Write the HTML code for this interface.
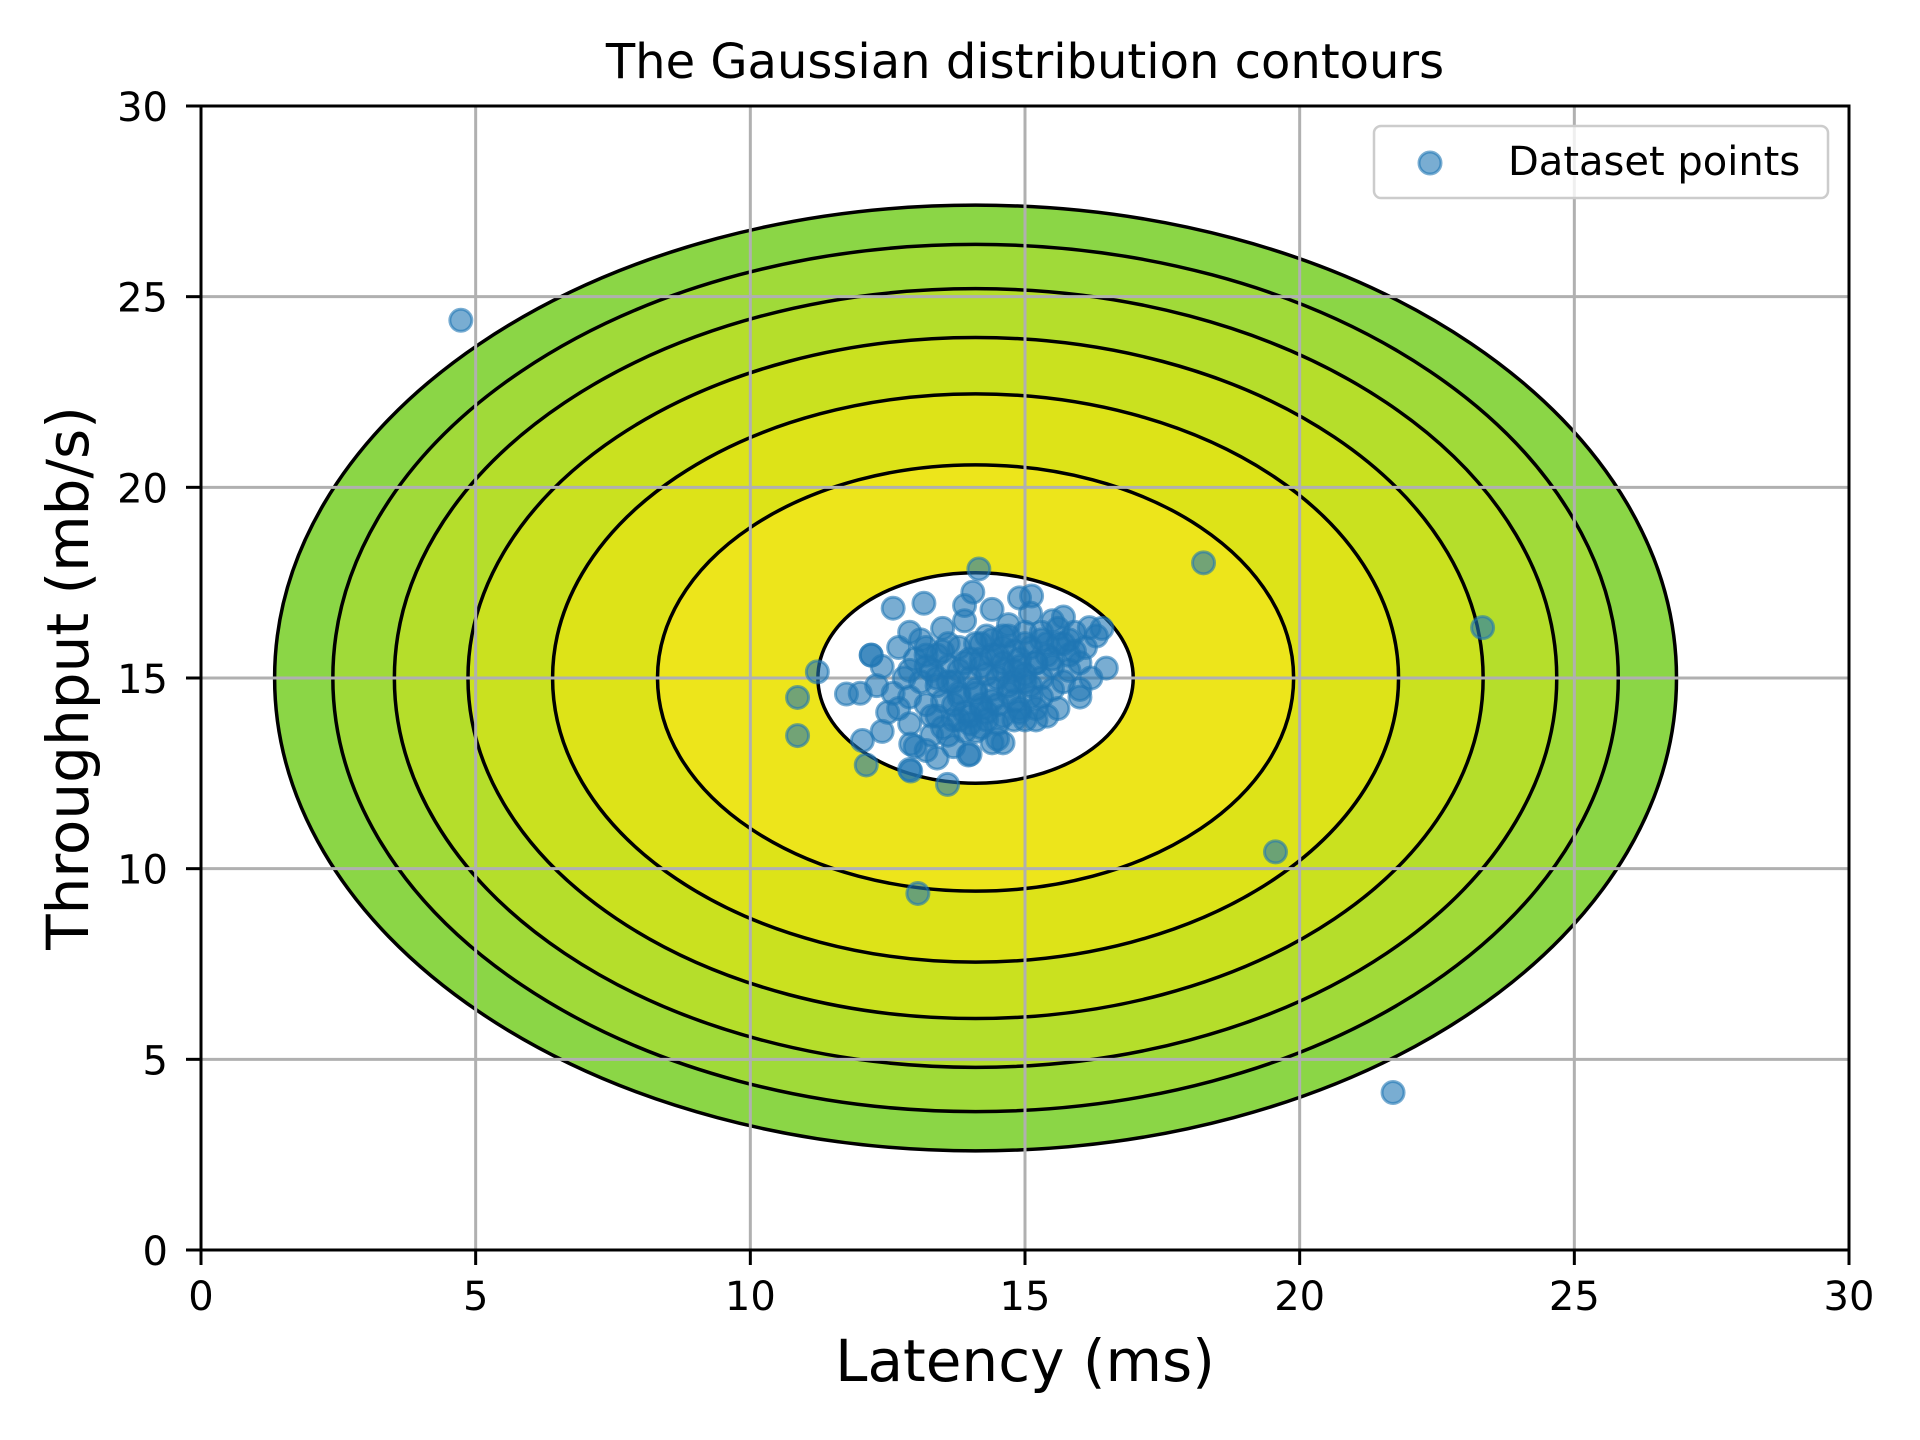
<!DOCTYPE html>
<html><head><meta charset="utf-8"><style>
html,body{margin:0;padding:0;background:#fff;}
svg{display:block;font-family:"DejaVu Sans","Liberation Sans",sans-serif;}
</style></head><body>
<svg id="chart" width="1920" height="1440" viewBox="0 0 1920 1440" xmlns="http://www.w3.org/2000/svg">
<defs><clipPath id="plotclip"><rect x="201" y="106" width="1648" height="1144"/></clipPath></defs>
<rect width="1920" height="1440" fill="#fff"/>
<g id="contours" clip-path="url(#plotclip)"></g>
<g id="grid"></g>
<g id="points" clip-path="url(#plotclip)"></g>
<rect x="201" y="106" width="1648" height="1144" fill="none" stroke="#000" stroke-width="3"/>
<g id="ticks"></g>
<text x="1025" y="78" font-size="48" text-anchor="middle">The Gaussian distribution contours</text>
<text x="1025" y="1381" font-size="58" text-anchor="middle">Latency (ms)</text>
<text transform="translate(88,678) rotate(-90)" font-size="58" text-anchor="middle">Throughput (mb/s)</text>
<g>
<rect x="1374" y="126" width="454" height="72" rx="7" fill="#fff" fill-opacity="0.8" stroke="#ccc" stroke-width="2.5"/>
<circle cx="1430" cy="163" r="11" fill="#1f77b4" fill-opacity="0.6" stroke="#1f77b4" stroke-opacity="0.6" stroke-width="3"/>
<text x="1508" y="175" font-size="40">Dataset points</text>
</g>
</svg>
<script>
const xTicks = [0,5,10,15,20,25,30];
const yTicks = [0,5,10,15,20,25,30];
const centerX = 14.1, centerY = 15.0;
const ringHalfWidths = [12.76, 11.7, 10.58, 9.24, 7.7, 5.79, 2.87];
const ringHalfHeights = [12.4, 11.37, 10.21, 8.93, 7.45, 5.59, 2.76];
const bandColors = ['#8bd646','#a0da39','#b5de2b','#cae11f','#dde318','#ede51b','#ffffff'];
const clusterX = [13.0,13.4,13.8,14.2,14.6,15.0,15.4,15.8,14.0,14.4,14.8,13.6,13.2,12.8,12.6,12.9,13.3,13.7,14.1,14.5,14.9,15.3,15.7,16.0,15.9,15.5,15.1,14.7,14.3,13.9,13.5,13.1,12.7,12.4,12.3,12.5,13.0,13.4,14.0,14.6,15.2,15.6,16.2,16.1,15.3,14.9,14.5,14.1,13.7,13.3,14.2,14.6,15.0,13.8,13.4,12.9,13.5,14.3,14.7,15.1,15.5,15.9,16.3,16.4,15.7,14.9,14.4,13.9,12.9,12.2,12.0,12.4,12.9,13.2,14.4,15.0,15.4,16.0,14.0,14.8,15.2,13.6,14.4,15.6,13.2,12.7,14.2,15.8,14.6,13.8];
const clusterY = [15.5,15.0,14.6,15.3,15.8,15.1,15.6,16.0,14.0,14.4,14.9,15.9,14.3,15.0,14.6,13.8,13.5,13.2,13.6,13.4,14.2,14.5,14.9,15.4,16.2,16.5,16.7,16.4,16.1,16.5,16.3,16.0,15.8,15.3,14.8,14.1,13.2,12.9,13.0,13.3,13.9,14.2,15.0,15.8,16.0,15.5,15.0,14.7,14.3,14.0,15.9,15.4,15.9,15.2,15.6,14.5,13.7,14.1,14.6,14.8,15.3,15.7,16.1,16.3,16.6,17.1,16.8,16.9,16.2,15.6,14.6,13.6,12.6,13.1,13.3,13.9,14.0,14.5,15.5,15.2,15.4,14.9,15.6,15.9,15.3,14.2,14.3,15.2,16.1,13.9];
const coreX = [13.2,13.5,13.8,14.1,14.4,14.7,15.0,15.3,15.6,13.3,13.6,13.9,14.2,14.5,14.8,15.1,15.4,15.7,13.4,13.7,14.0,14.3,14.6,14.9,15.2,15.5,13.5,13.8,14.1,14.4,14.7,15.0,15.3,13.9,14.2,14.5,14.8,15.1,13.1,13.4,13.7,14.0,14.3,14.6,14.9,15.2,13.6,13.9,14.2,14.5,14.8,12.9,13.2,15.5,15.8];
const coreY = [15.6,15.7,15.8,15.9,16.0,16.1,16.2,16.2,16.3,15.2,15.3,15.4,15.5,15.6,15.7,15.8,15.9,15.9,14.8,14.9,15.0,15.1,15.2,15.3,15.4,15.5,14.4,14.5,14.6,14.7,14.8,14.9,15.0,14.1,14.2,14.3,14.4,14.5,14.9,14.0,13.9,13.8,13.9,14.0,14.1,14.2,13.5,13.6,13.7,13.8,13.9,15.2,15.8,14.7,15.6];
const outlierX = [4.73,18.25,23.33,19.56,13.05,21.7,10.86,10.86,11.22,14.16,12.11,12.04,12.92,13.59,16.48,16.0,12.6,13.16,14.05,11.75,12.2,15.12,16.17,12.92,13.97];
const outlierY = [24.38,18.02,16.32,10.44,9.35,4.13,14.49,13.49,15.16,17.86,12.72,13.36,12.56,12.21,15.26,14.7,16.83,16.96,17.25,14.58,15.6,17.15,16.32,13.27,12.98];

const L=201,R=1849,T=106,B=1250;
const X=v=>L+(v-0)/30*(R-L);
const Y=v=>B-(v-0)/30*(B-T);
const NS='http://www.w3.org/2000/svg';
function mk(tag,attrs,parent){const e=document.createElementNS(NS,tag);for(const k in attrs)e.setAttribute(k,attrs[k]);parent.appendChild(e);return e;}

const cg=document.getElementById('contours');
ringHalfWidths.forEach((hw,i)=>{
  const e=mk('ellipse',{cx:X(centerX),cy:Y(centerY),rx:X(hw)-X(0),ry:Y(0)-Y(ringHalfHeights[i]),fill:bandColors[i],stroke:'#000','stroke-width':3.5},cg);
  
  
});

const gg=document.getElementById('grid'), tg=document.getElementById('ticks');
xTicks.forEach(t=>{
  const l=mk('line',{x1:X(t),x2:X(t),y1:T,y2:B,stroke:'#b0b0b0','stroke-width':3},gg);
  
  
  const tk=mk('line',{x1:X(t),x2:X(t),y1:B,y2:B+15,stroke:'#000','stroke-width':3},tg);
  
  
  const tx=mk('text',{x:X(t),y:1310,'font-size':40,'text-anchor':'middle'},tg);
  tx.textContent=t;
  
  
});
yTicks.forEach(t=>{
  const l=mk('line',{x1:L,x2:R,y1:Y(t),y2:Y(t),stroke:'#b0b0b0','stroke-width':3},gg);
  
  
  const tk=mk('line',{x1:L-15,x2:L,y1:Y(t),y2:Y(t),stroke:'#000','stroke-width':3},tg);
  
  
  const tx=mk('text',{x:168,y:Y(t)+15,'font-size':40,'text-anchor':'end'},tg);
  tx.textContent=t;
  
  
});

const pg=document.getElementById('points');
function addPts(xs,ys){xs.forEach((x,i)=>{
  const c=mk('circle',{cx:X(x),cy:Y(ys[i]),r:11,fill:'#1f77b4','fill-opacity':0.6,stroke:'#1f77b4','stroke-opacity':0.6,'stroke-width':3},pg);
  
  
});}
addPts(clusterX,clusterY);
addPts(coreX,coreY);
addPts(outlierX,outlierY);
</script>
</body></html>
